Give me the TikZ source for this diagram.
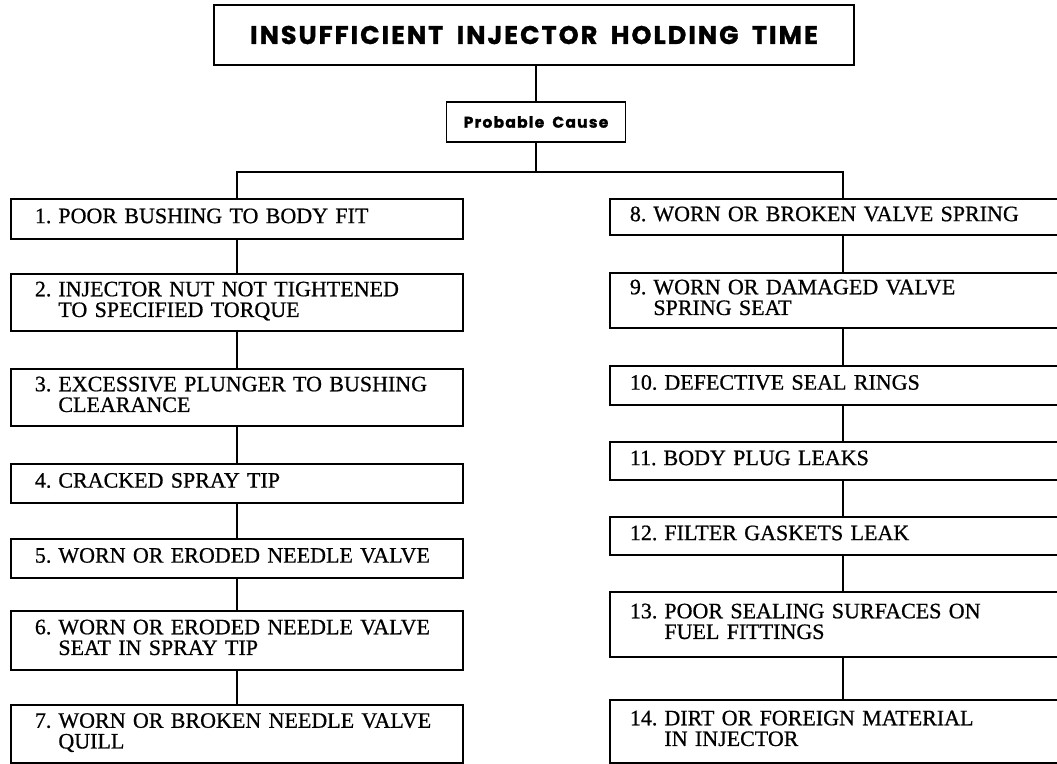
\documentclass[tikz,border=0pt]{standalone}
\usepackage{fontspec}
\setmainfont{Liberation Serif}[FakeBold=0.7]
\newfontfamily\headfont{Poppins}[LetterSpace=8, WordSpace=1.8, BoldFeatures={FakeBold=1.2}]
\usetikzlibrary{positioning, calc}

\tikzset{
	boxnode/.style={
			rectangle,
			draw=black,
			line width=1.8pt,
			fill=white
		},
	titlenode/.style={
			boxnode,
			minimum width=640pt,
			minimum height=60pt,
			inner sep=0pt,
			font=\headfont\bfseries\fontsize{25.5}{28}\selectfont
		},
	headnode/.style={
			boxnode,
			minimum width=179pt,
			minimum height=40pt,
			inner sep=0pt,
			font=\headfont\bfseries\fontsize{15.5}{18}\selectfont
		},
	causenode/.style={
			boxnode,
			anchor=north west,
			align=left,
			inner ysep=0pt,
			font=\fontsize{22}{20.5}\selectfont
		},
	leftnode/.style={
			causenode,
			minimum width=452pt,
			inner xsep=24pt,
			text width=404pt
		},
	rightnode/.style={
			causenode,
			minimum width=466pt,
			inner xsep=20pt,
			text width=426pt
		},
	link/.style={line width=1.8pt}
}

% number in front, wrapped lines start under the text
\newcommand{\cause}[2]{\noindent\begin{tabular}{@{}l@{\hspace{7pt}}l@{}}#1 & #2\end{tabular}}

\begin{document}
\begin{tikzpicture}[x=1pt,y=-1pt]
	\useasboundingbox (0,0) rectangle (1057,763);
	\clip (0,0) rectangle (1057,763);

	\node[titlenode] at (534,35) (title) {INSUFFICIENT INJECTOR HOLDING TIME};
	\node[headnode] at (536,122) (probable) {Probable Cause};

	% left column
	\node[leftnode, minimum height=40pt] at (10,198) (c1) {\cause{1.}{POOR BUSHING TO BODY FIT}};
	\node[leftnode, minimum height=57pt] at (10,273) (c2) {\cause{2.}{INJECTOR NUT NOT TIGHTENED\\ & TO SPECIFIED TORQUE}};
	\node[leftnode, minimum height=57pt] at (10,368) (c3) {\cause{3.}{EXCESSIVE PLUNGER TO BUSHING\\ & CLEARANCE}};
	\node[leftnode, minimum height=39pt] at (10,463) (c4) {\cause{4.}{CRACKED SPRAY TIP}};
	\node[leftnode, minimum height=39pt] at (10,538) (c5) {\cause{5.}{WORN OR ERODED NEEDLE VALVE}};
	\node[leftnode, minimum height=59pt] at (10,610) (c6) {\cause{6.}{WORN OR ERODED NEEDLE VALVE\\ & SEAT IN SPRAY TIP}};
	\node[leftnode, minimum height=58pt] at (10,704) (c7) {\cause{7.}{WORN OR BROKEN NEEDLE VALVE\\ & QUILL}};

	% right column
	\node[rightnode, minimum height=36pt] at (609,198) (c8) {\cause{8.}{WORN OR BROKEN VALVE SPRING}};
	\node[rightnode, minimum height=55pt] at (609,272) (c9) {\cause{9.}{WORN OR DAMAGED VALVE\\ & SPRING SEAT}};
	\node[rightnode, minimum height=39pt] at (609,365) (c10) {\cause{10.}{DEFECTIVE SEAL RINGS}};
	\node[rightnode, minimum height=38pt] at (609,441) (c11) {\cause{11.}{BODY PLUG LEAKS}};
	\node[rightnode, minimum height=38pt] at (609,516) (c12) {\cause{12.}{FILTER GASKETS LEAK}};
	\node[rightnode, minimum height=65pt] at (609,591) (c13) {\cause{13.}{POOR SEALING SURFACES ON\\ & FUEL FITTINGS}};
	\node[rightnode, minimum height=63pt] at (609,699) (c14) {\cause{14.}{DIRT OR FOREIGN MATERIAL\\ & IN INJECTOR}};

	\coordinate (split) at (536,172);

	\draw[link] (title.south -| probable.north) -- (probable);
	\draw[link] (probable) -- (split);
	\draw[link] (c1.north) |- (split) -| (c8.north);

	\foreach \i/\j in {1/2,2/3,3/4,4/5,5/6,6/7,8/9,9/10,10/11,11/12,12/13,13/14}
		\draw[link] (c\i) -- (c\j);
\end{tikzpicture}
\end{document}
